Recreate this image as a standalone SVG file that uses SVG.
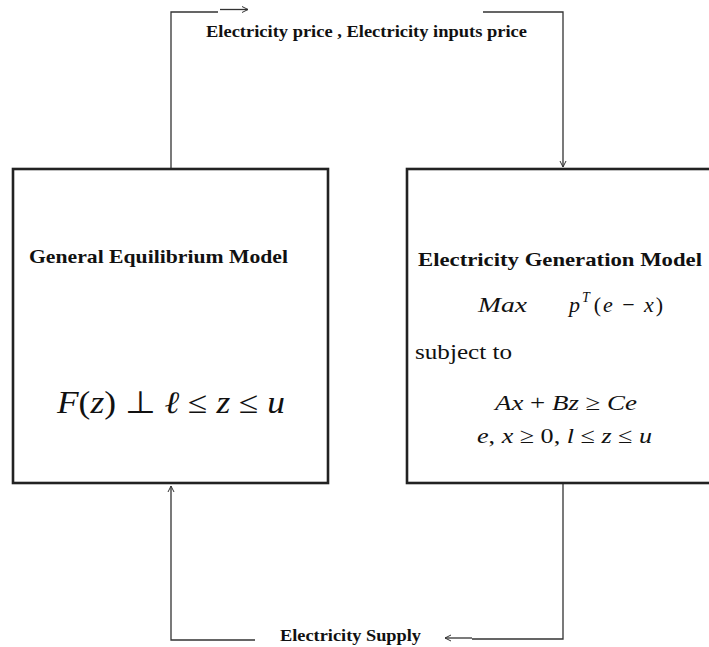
<svg xmlns="http://www.w3.org/2000/svg" width="709" height="647" viewBox="0 0 709 647">
<style>
.box{fill:#fff;stroke:#222;stroke-width:2.6}
.con{fill:none;stroke:#333;stroke-width:1.3}
.lbl{font-family:"Liberation Serif","Times New Roman",serif;font-weight:bold;fill:#111}
.m{font-family:"Liberation Serif","Times New Roman",serif;fill:#111}
.i{font-style:italic}
</style>
<defs>
<marker id="ah" markerWidth="8" markerHeight="8" refX="7" refY="4" orient="auto" markerUnits="userSpaceOnUse">
<path d="M1,1 L7,4 L1,7" fill="none" stroke="#333" stroke-width="1"/>
</marker>
</defs>
<rect width="709" height="647" fill="#fff"/>
<g id="connectors">
<path class="con" d="M171,169 V12 H218"/>
<line class="con" x1="220" y1="9.5" x2="248" y2="9.5" marker-end="url(#ah)"/>
<path class="con" d="M483,12 H563 V167" marker-end="url(#ah)"/>
<path class="con" d="M563,483 V639 H472"/>
<line class="con" x1="472" y1="638" x2="445" y2="638" marker-end="url(#ah)"/>
<path class="con" d="M255,640 H171 V486" marker-end="url(#ah)"/>
<text class="lbl" x="206" y="37" font-size="16" textLength="321" lengthAdjust="spacingAndGlyphs">Electricity price , Electricity inputs price</text>
<text class="lbl" x="280" y="641" font-size="16" textLength="141" lengthAdjust="spacingAndGlyphs">Electricity Supply</text>
</g>
<g id="general-equilibrium">
<rect class="box" x="13" y="169" width="315" height="314"/>
<text class="lbl" x="29" y="263" font-size="19" textLength="259" lengthAdjust="spacingAndGlyphs">General Equilibrium Model</text>
<text class="m" x="57" y="413" font-size="31" textLength="228" lengthAdjust="spacingAndGlyphs"><tspan class="i">F</tspan>(<tspan class="i">z</tspan>) ⊥ <tspan class="i">ℓ</tspan> ≤ <tspan class="i">z</tspan> ≤ <tspan class="i">u</tspan></text>
</g>
<g id="electricity-generation">
<rect class="box" x="407" y="169" width="310" height="314"/>
<text class="lbl" x="418" y="266" font-size="19" textLength="284" lengthAdjust="spacingAndGlyphs">Electricity Generation  Model</text>
<text class="m i" x="478" y="312" font-size="22" textLength="49" lengthAdjust="spacingAndGlyphs">Max</text>
<text class="m" x="569" y="312" font-size="22" textLength="94" lengthAdjust="spacing"><tspan class="i">p</tspan><tspan class="i" font-size="14" dy="-10">T</tspan><tspan dy="10" dx="2">(</tspan><tspan class="i">e</tspan> − <tspan class="i">x</tspan>)</text>
<text class="m" x="415" y="359" font-size="21" textLength="97" lengthAdjust="spacingAndGlyphs">subject to</text>
<text class="m" x="495" y="410" font-size="22" textLength="142" lengthAdjust="spacingAndGlyphs"><tspan class="i">Ax</tspan> + <tspan class="i">Bz</tspan> ≥ <tspan class="i">Ce</tspan></text>
<text class="m" x="477" y="443" font-size="22" textLength="175" lengthAdjust="spacingAndGlyphs"><tspan class="i">e</tspan>, <tspan class="i">x</tspan> ≥ 0, <tspan class="i">l</tspan> ≤ <tspan class="i">z</tspan> ≤ <tspan class="i">u</tspan></text>
</g>
</svg>
